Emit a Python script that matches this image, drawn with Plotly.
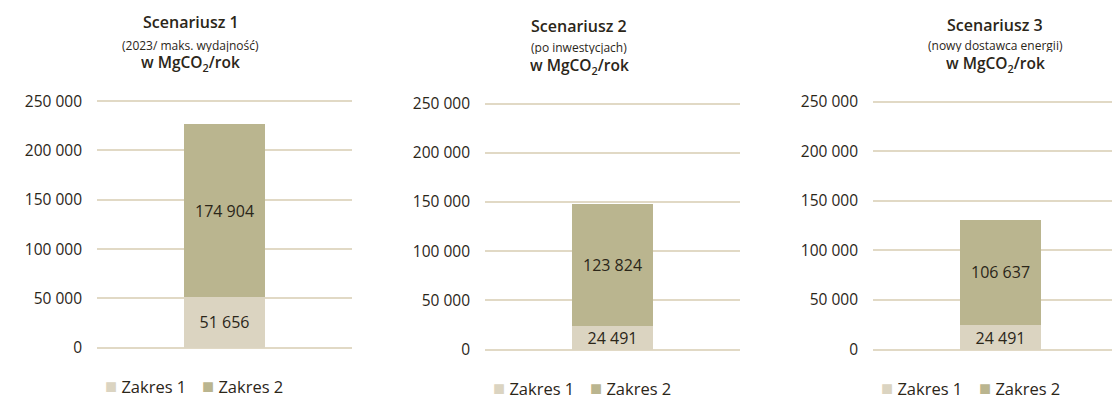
import plotly.graph_objects as go

# ---- data ----
scenarios = ["Scenariusz 1", "Scenariusz 2", "Scenariusz 3"]
subtitles = ["(2023/ maks. wydajność)", "(po inwestycjach)", "(nowy dostawca energii)"]
series_names = ["Zakres 1", "Zakres 2"]
zakres1 = [51656, 24491, 24491]
zakres2 = [174904, 123824, 106637]
y_ticks = [0, 50000, 100000, 150000, 200000, 250000]

# ---- style ----
W, H = 1112, 402
C1 = "#dbd4c1"
C2 = "#bab58f"
GRID = "#e1d9c5"
TXT = "#2b2619"
FONT = "Open Sans"

# panel geometry in pixels: (x_left, x_right, y_zero, y_top)
panels = [(97, 352, 352, 96.5), (485, 740, 354, 99), (873, 1128, 354, 97)]
title_x = [191, 579, 995]
title_y = [(14, 38, 57.5), (19, 40.5, 60), (18, 38.5, 58)]
legend_y = [391, 393, 393]
legend_x = [(103, 200), (491, 588), (879, 977)]

fig = go.Figure()
PAD = 4
for i in range(3):
    xl, xr, y0, y1 = panels[i]
    ax = "" if i == 0 else str(i + 1)
    upp = 250000 / (y0 - y1)
    dom_y = [1 - (y0 + PAD) / H, 1 - (y1 - PAD) / H]
    xr_vis = min(xr, W)
    dom_x = [xl / W, xr_vis / W]
    x_hi = 0.5 - (xr - xr_vis) / (xr - xl)
    bw = 80.5 / (xr - xl)
    for name, vals, col in [(series_names[0], zakres1, C1), (series_names[1], zakres2, C2)]:
        fig.add_trace(go.Bar(
            x=[0], y=[vals[i]], name=name, marker=dict(color=col, line=dict(width=0)),
            width=bw, texttemplate="%{y:,d}", textposition="inside",
            insidetextanchor="middle", textangle=0, constraintext="none",
            textfont=dict(family=FONT, size=16, color=TXT),
            xaxis="x" + ax, yaxis="y" + ax, showlegend=False, hoverinfo="skip"))
    fig.update_layout(**{
        "xaxis" + ax: dict(domain=dom_x, range=[-0.5, x_hi], visible=False, fixedrange=True),
        "yaxis" + ax: dict(domain=dom_y, range=[-PAD * upp, 250000 + PAD * upp],
                           tickvals=y_ticks, tickformat=",d", showgrid=True,
                           gridcolor=GRID, gridwidth=2, zeroline=False, showline=False,
                           ticks="", ticklabelstandoff=14,
                           tickfont=dict(family=FONT, size=15.5, color=TXT),
                           anchor="x" + ax, fixedrange=True),
    })
    t1, t2, t3 = title_y[i]
    fig.add_annotation(text=scenarios[i], x=title_x[i] / W, y=1 - t1 / H, xref="paper", yref="paper",
                       showarrow=False, xanchor="center", yanchor="middle", height=20,
                       font=dict(family=FONT, size=16, color=TXT, weight=600))
    fig.add_annotation(text=subtitles[i], x=title_x[i] / W, y=1 - t2 / H, xref="paper", yref="paper",
                       showarrow=False, xanchor="center", yanchor="middle", height=14,
                       font=dict(family=FONT, size=12, color=TXT))
    fig.add_annotation(text="w MgCO<sub>2</sub>/rok", x=title_x[i] / W, y=1 - t3 / H, xref="paper", yref="paper",
                       showarrow=False, xanchor="center", yanchor="middle", height=20,
                       font=dict(family=FONT, size=15.5, color=TXT, weight=600))
    for j, (name, col) in enumerate([(series_names[0], C1), (series_names[1], C2)]):
        fig.add_annotation(text=f"<span style='color:{col};font-size:20px'>■</span> {name}",
                           x=legend_x[i][j] / W, y=1 - legend_y[i] / H, xref="paper", yref="paper",
                           showarrow=False, xanchor="left", yanchor="middle",
                           font=dict(family=FONT, size=16.5, color=TXT))

fig.update_layout(
    width=W, height=H, margin=dict(l=0, r=0, t=0, b=0),
    paper_bgcolor="white", plot_bgcolor="white",
    barmode="stack", separators=", ", showlegend=False,
    font=dict(family=FONT, color=TXT),
)
fig.write_html("out.html", config={"displayModeBar": False},
               post_script="document.body.style.margin='0';document.body.style.overflow='hidden';")
